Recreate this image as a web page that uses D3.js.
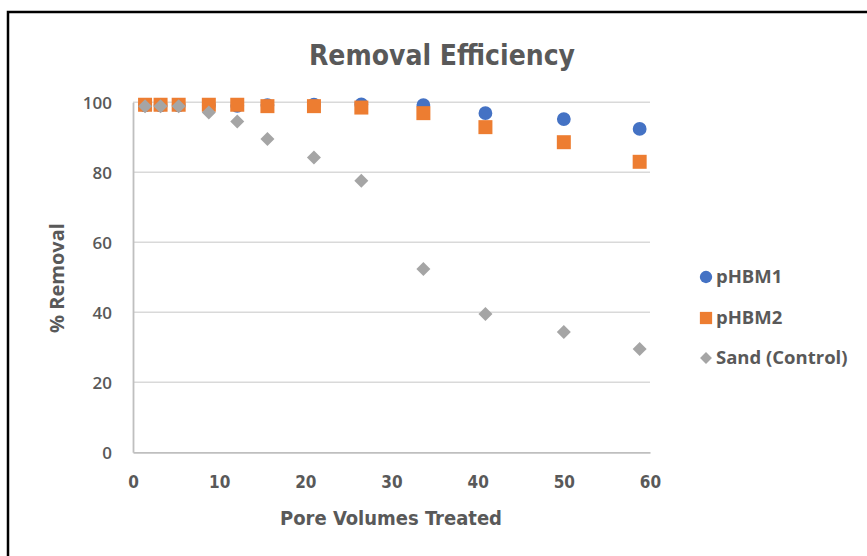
<!DOCTYPE html>
<html>
<head>
<meta charset="utf-8">
<script src="https://cdn.jsdelivr.net/npm/d3@7"></script>
<style>
  body { margin: 0; background: #fff; }
  svg { display: block; }
</style>
</head>
<body>
<svg id="chart"></svg>
<script>
// chart data
var poreVolumes = [1.4, 3.2, 5.3, 8.8, 12.1, 15.6, 21.0, 26.5, 33.7, 40.9, 50.0, 58.8];
var pHBM1 = [99.1, 99.1, 99.1, 99.1, 99.0, 99.2, 99.3, 99.4, 99.2, 96.9, 95.2, 92.4];
var pHBM2 = [99.3, 99.3, 99.3, 99.3, 99.3, 98.9, 98.9, 98.5, 96.9, 92.9, 88.6, 83.0];
var sand  = [98.9, 98.9, 98.9, 97.1, 94.5, 89.5, 84.2, 77.6, 52.4, 39.5, 34.4, 29.5];
var seriesNames = ["pHBM1", "pHBM2", "Sand (Control)"];
var xTicks = [0, 10, 20, 30, 40, 50, 60];
var yTicks = [0, 20, 40, 60, 80, 100];

var width = 867;
var height = 556;
var textColor = "#595959";
var colors = ["#4472C4", "#ED7D31", "#A5A5A5"];
var narrowFont = "'Liberation Sans Narrow', 'DejaVu Sans Condensed', sans-serif";

var svg = d3.select("#chart")
  .attr("width", width)
  .attr("height", height);

// outer frame (only top/left visible in the shot)
svg.append("rect")
  .attr("x", 8).attr("y", 12)
  .attr("width", 900).attr("height", 600)
  .attr("fill", "none")
  .attr("stroke", "#000")
  .attr("stroke-width", 2.5);

var x = d3.scaleLinear().domain([0, 60]).range([133, 650]);
var y = d3.scaleLinear().domain([0, 100]).range([452.3, 102.3]);

// gridlines
svg.append("g")
  .selectAll("line")
  .data(yTicks.filter(function(d) { return d > 0; }))
  .join("line")
  .attr("x1", x(0)).attr("x2", x(60))
  .attr("y1", function(d) { return y(d); })
  .attr("y2", function(d) { return y(d); })
  .attr("stroke", "#D9D9D9")
  .attr("stroke-width", 1.6);

// axes
var xAxis = svg.append("g")
  .attr("transform", "translate(0," + y(0) + ")")
  .call(d3.axisBottom(x).tickValues(xTicks).tickSize(0).tickPadding(24));
var yAxis = svg.append("g")
  .attr("transform", "translate(" + x(0) + ",0)")
  .call(d3.axisLeft(y).tickValues(yTicks).tickSize(0).tickPadding(21));

[xAxis, yAxis].forEach(function(g) {
  g.select(".domain").attr("stroke", "#BFBFBF").attr("stroke-width", 1.8);
});
xAxis.selectAll("text")
  .attr("fill", textColor)
  .style("font-family", narrowFont)
  .style("font-size", "17px")
  .style("font-weight", "bold");
yAxis.selectAll("text")
  .attr("fill", textColor)
  .attr("dy", "0.35em")
  .style("font-family", "'Open Sans', sans-serif")
  .style("font-size", "17px")
  .style("font-weight", "600");

// title
svg.append("text")
  .attr("x", 442).attr("y", 65)
  .attr("text-anchor", "middle")
  .attr("fill", textColor)
  .style("font-family", narrowFont)
  .style("font-size", "28px")
  .style("font-weight", "bold")
  .text("Removal Efficiency");

// axis titles
svg.append("text")
  .attr("x", 391).attr("y", 525)
  .attr("text-anchor", "middle")
  .attr("fill", textColor)
  .style("font-family", narrowFont)
  .style("font-size", "20px")
  .style("font-weight", "bold")
  .text("Pore Volumes Treated");

svg.append("text")
  .attr("transform", "translate(64,278) rotate(-90)")
  .attr("text-anchor", "middle")
  .attr("fill", textColor)
  .style("font-family", "'Open Sans', sans-serif")
  .style("font-size", "20px")
  .style("font-weight", "bold")
  .text("% Removal");

// markers, drawn in series order so sand sits on top
var symbols = [d3.symbolCircle, d3.symbolSquare, d3.symbolDiamond2];
var sizes = [150, 196, 125];
var allSeries = [pHBM1, pHBM2, sand];

allSeries.forEach(function(values, i) {
  var sym = d3.symbol().type(symbols[i]).size(sizes[i]);
  svg.append("g")
    .selectAll("path")
    .data(values)
    .join("path")
    .attr("transform", function(d, j) {
      return "translate(" + x(poreVolumes[j]) + "," + y(d) + ")";
    })
    .attr("d", sym)
    .attr("fill", colors[i]);
});

// legend
var legendY = [277, 318, 358];
var legend = svg.append("g");
seriesNames.forEach(function(name, i) {
  var sizeL = [120, 150, 90][i];
  legend.append("path")
    .attr("transform", "translate(706," + legendY[i] + ")")
    .attr("d", d3.symbol().type(symbols[i]).size(sizeL))
    .attr("fill", colors[i]);
  legend.append("text")
    .attr("x", 716).attr("y", legendY[i])
    .attr("dy", "0.35em")
    .attr("fill", textColor)
    .style("font-family", "'Open Sans', sans-serif")
    .style("font-size", "18.5px")
    .style("font-weight", "bold")
    .text(name);
});
</script>
</body>
</html>
